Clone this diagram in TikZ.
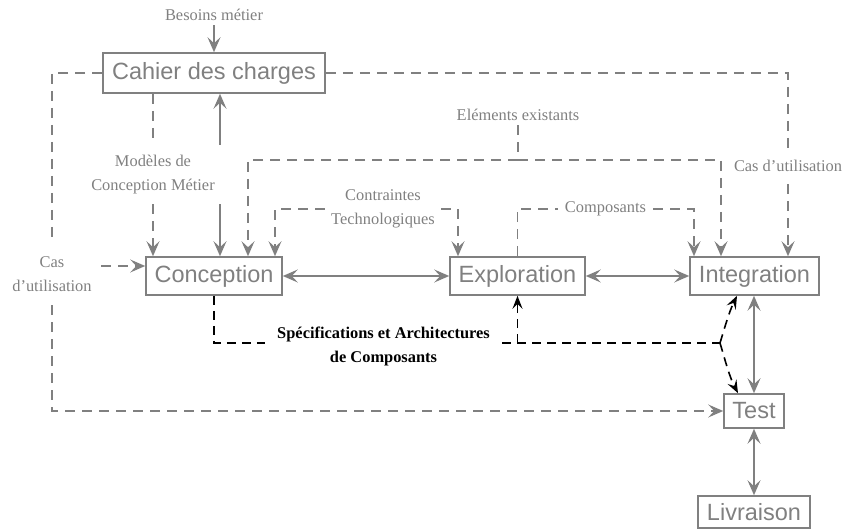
\documentclass[tikz,border=0pt]{standalone}
\usepackage{fontspec}
\setmainfont{Liberation Serif}
\setsansfont{Liberation Sans}
\usetikzlibrary{arrows.meta,calc}
\definecolor{ink}{gray}{0.5}

\tikzset{
  gtip/.tip={Stealth[length=15pt,width=13pt,inset=6pt]},
  ktip/.tip={Stealth[length=13pt,width=10pt,inset=5pt]},
  box/.style={draw=ink, line width=1.6pt, text=ink,
    font=\sffamily\fontsize{23.5}{24}\selectfont, inner sep=0pt},
  lbl/.style={text=ink, font=\fontsize{16.4}{24}\selectfont,
    align=center, inner sep=0pt},
  speclbl/.style={text=black, font=\bfseries\fontsize{16.4}{24}\selectfont,
    align=center, inner sep=0pt},
  gline/.style={draw=ink, line width=1.6pt},
  gdashed/.style={gline, dash pattern=on 10pt off 7pt},
  flow/.style={gline, -gtip},
  flowdash/.style={gdashed, -gtip},
  both/.style={gline, gtip-gtip},
  kdashed/.style={draw=black, line width=1.6pt, dash pattern=on 9pt off 6pt},
  kflow/.style={kdashed, -ktip},
}

\begin{document}
\begin{tikzpicture}[x=1pt,y=-1pt]
\useasboundingbox (0,0) rectangle (843,529);

% process boxes
\node[box, minimum width=222pt, minimum height=40pt] (cahier) at (214,73) {Cahier des charges};
\node[box, minimum width=136pt, minimum height=38pt] (conc) at (214,276) {Conception};
\node[box, minimum width=135pt, minimum height=38pt] (expl) at (517.5,276) {Exploration};
\node[box, minimum width=129pt, minimum height=38pt] (integ) at (754.5,276) {Integration};
\node[box, minimum width=60pt, minimum height=34pt] (test) at (754,411) {Test};
\node[box, minimum width=112pt, minimum height=32pt] (livr) at (754,512) {Livraison};

% flow labels
\node[lbl, minimum height=20pt] (besoins) at (214,15) {Besoins métier};
\node[lbl, minimum height=59pt] (modeles) at (153,174.5) {Modèles de\\Conception Métier};
\node[lbl, minimum height=20pt] (elem) at (518,115) {Eléments existants};
\node[lbl, minimum height=36pt] (casR) at (788,166) {Cas d’utilisation};
\node[lbl, minimum width=116pt, minimum height=40pt] (contr) at (383,209) {Contraintes\\Technologiques};
\node[lbl, minimum width=95pt] (compo) at (605.5,209) {Composants};
\node[lbl, minimum width=98pt, minimum height=62pt] (casL) at (52,274) {Cas\\d’utilisation};
\node[speclbl, minimum width=237pt] (specn) at (383.5,346) {Spécifications et Architectures\\de Composants};

% helper points
\coordinate (sx) at (220,0);
\coordinate (ej) at (518,160);
\coordinate (eL) at (248,160);
\coordinate (eR) at (721,160);
\coordinate (cx) at (275,0);
\coordinate (xx) at (458,0);
\coordinate (ix) at (694,0);
\coordinate (cL) at ([yshift=10pt]conc.west);
\coordinate (sp) at (720,343);

% business needs
\draw[flow] (besoins) -- (cahier);

% use cases, left side
\draw[gdashed] (cahier.west) -| (casL.north);
\draw[flowdash] (casL.south) |- (test.west);
\draw[flowdash] (casL.east |- cL) -- (cL);

% use cases, right side
\draw[gdashed] (cahier.east) -| (casR.north);
\draw[flowdash] (casR.south) -- (casR.south |- integ.north);

% business design models
\draw[gdashed] (modeles.north |- cahier.south) -- (modeles.north);
\draw[flowdash] (modeles.south) -- (modeles.south |- conc.north);
\draw[flow] (sx |- modeles.north) -- (sx |- cahier.south);
\draw[flow] (sx |- modeles.south) -- (sx |- conc.north);

% existing elements
\draw[gdashed] (elem.south) -- (ej);
\draw[flowdash] (ej) -| (eL |- conc.north);
\draw[flowdash] (ej) -| (eR |- integ.north);

% technological constraints
\draw[flowdash] (contr.west) -| (cx |- conc.north);
\draw[flowdash] (contr.east) -| (xx |- expl.north);

% components
\draw[gdashed] (expl.north) |- (compo.west);
\draw[flowdash] (compo.east) -| (ix |- integ.north);

% main chain
\draw[both] (conc) -- (expl);
\draw[both] (expl) -- (integ);
\draw[both] (test.north |- integ.south) -- (test.north);
\draw[both] (test) -- (livr);

% specifications and component architectures
\draw[kdashed] (conc.south) |- ([yshift=3pt]specn.west);
\draw[kdashed] ([yshift=3pt]specn.east) -- (sp);
\draw[kflow] (expl.south |- sp) -- (expl.south);
\draw[kflow] (sp) .. controls (724,330) and (729,312) .. ($(integ.south)+(-17.5,0)$);
\draw[kflow] (sp) .. controls (724,356) and (729,376) .. ($(test.north)+(-16,0)$);
\end{tikzpicture}
\end{document}
